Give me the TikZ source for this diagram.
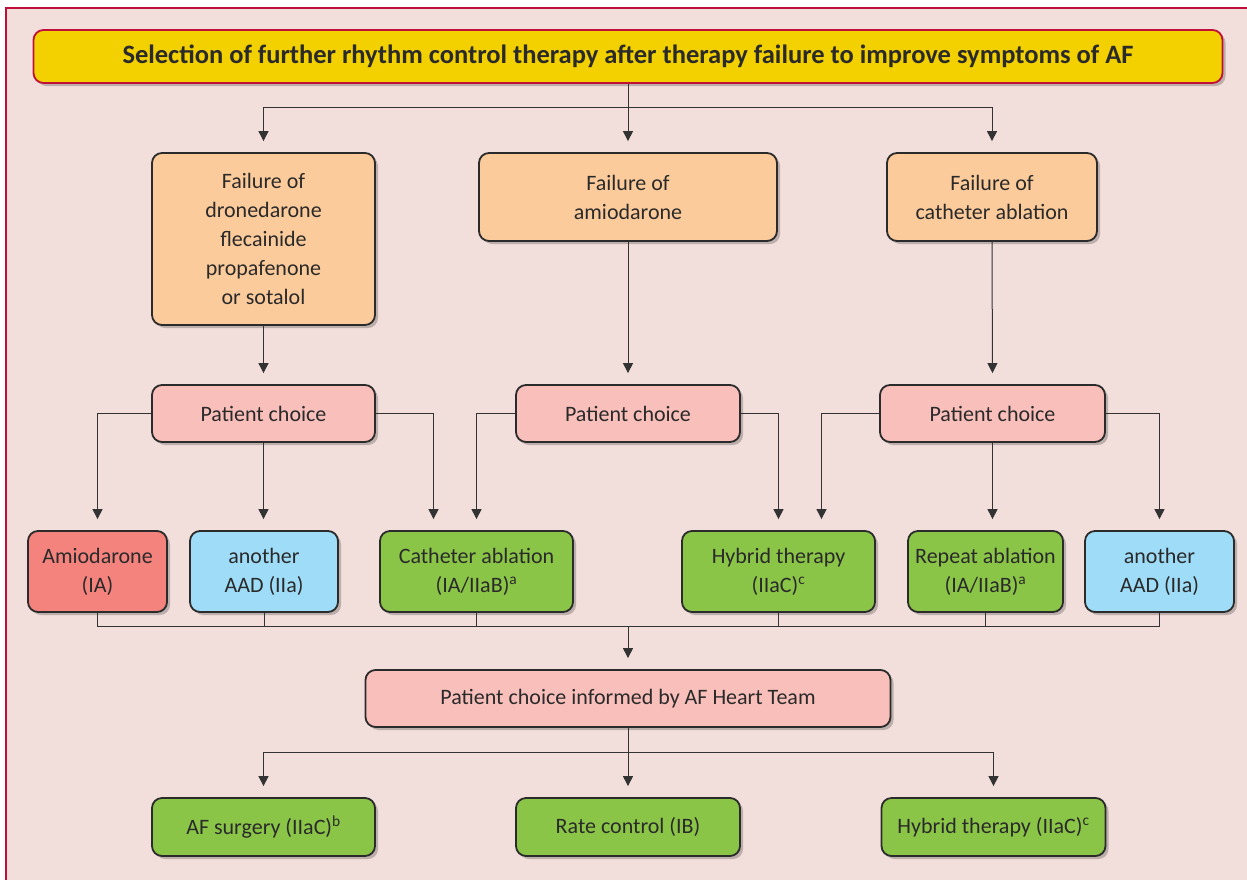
\documentclass[tikz,border=0pt]{standalone}
\usepackage{fontspec}
\setmainfont{Carlito}
\usetikzlibrary{shadows,arrows.meta,calc}
\definecolor{bgc}{HTML}{F2DFDC}
\definecolor{framec}{HTML}{C0103A}
\definecolor{yellowc}{HTML}{F3D000}
\definecolor{orangec}{HTML}{FCCB9B}
\definecolor{pinkc}{HTML}{F9BFBA}
\definecolor{redc}{HTML}{F4837E}
\definecolor{bluec}{HTML}{9EDCF8}
\definecolor{greenc}{HTML}{8BC548}
\definecolor{bordc}{HTML}{2B2B2B}
\definecolor{txtc}{HTML}{2A2A2A}
\definecolor{linec}{HTML}{333333}
\begin{document}
\begin{tikzpicture}[x=1pt,y=-1pt,
 box/.style={draw=bordc, line width=1.8pt, rounded corners=10pt, align=center,
   font=\fontsize{22}{29}\selectfont, text=txtc, inner sep=0pt,
   drop shadow={shadow xshift=3pt,shadow yshift=-3pt,opacity=0.22,fill=black}},
 conn/.style={draw=linec, line width=1pt},
 arr/.style={conn, -{Triangle[length=10pt,width=10pt]}, shorten >=11pt},
]
\useasboundingbox (0,0) rectangle (1247,879);
\fill[white] (0,0) rectangle (1247,879);
\draw[framec, line width=1.2pt, fill=bgc] (6,8) rectangle (1262,895);

\node[box, draw=framec, fill=yellowc, minimum width=1189pt, minimum height=53pt,
  font=\bfseries\fontsize{26.5}{30}\selectfont] (title) at (628,56.5)
  {Selection of further rhythm control therapy after therapy failure to improve symptoms of AF};

\node[box, fill=orangec, minimum width=223pt, minimum height=172pt] (f1) at (263.5,239)
  {Failure of\\dronedarone\\flecainide\\propafenone\\or sotalol};
\node[box, fill=orangec, minimum width=298pt, minimum height=88pt] (f2) at (628,197)
  {Failure of\\amiodarone};
\node[box, fill=orangec, minimum width=210pt, minimum height=88pt] (f3) at (992,197)
  {Failure of\\catheter ablation};

\node[box, fill=pinkc, minimum width=223pt, minimum height=57pt] (pc1) at (263.5,413.5) {Patient choice};
\node[box, fill=pinkc, minimum width=224pt, minimum height=57pt] (pc2) at (628,413.5) {Patient choice};
\node[box, fill=pinkc, minimum width=225pt, minimum height=57pt] (pc3) at (992.5,413.5) {Patient choice};

\node[box, fill=redc, minimum width=139pt, minimum height=81pt] (amio) at (97.5,571.5) {Amiodarone\\(IA)};
\node[box, fill=bluec, minimum width=148pt, minimum height=81pt] (aad1) at (264,571.5) {another\\AAD (IIa)};
\node[box, fill=greenc, minimum width=193pt, minimum height=81pt] (cath) at (476.5,571.5) {Catheter ablation\\(IA/IIaB)\textsuperscript{a}};
\node[box, fill=greenc, minimum width=193pt, minimum height=81pt] (hyb) at (778.5,571.5) {Hybrid therapy\\(IIaC)\textsuperscript{c}};
\node[box, fill=greenc, minimum width=155pt, minimum height=81pt] (rep) at (985.5,571.5) {Repeat ablation\\(IA/IIaB)\textsuperscript{a}};
\node[box, fill=bluec, minimum width=149pt, minimum height=81pt] (aad2) at (1159.5,571.5) {another\\AAD (IIa)};

\node[box, fill=pinkc, minimum width=525pt, minimum height=57pt] (inf) at (628,698.5) {Patient choice informed by AF Heart Team};

\node[box, fill=greenc, minimum width=223pt, minimum height=58pt] (surg) at (263.5,827) {AF surgery (IIaC)\textsuperscript{b}};
\node[box, fill=greenc, minimum width=224pt, minimum height=58pt] (rate) at (628,827) {Rate control (IB)};
\node[box, fill=greenc, minimum width=224pt, minimum height=58pt] (hyb2) at (993.5,827) {Hybrid therapy (IIaC)\textsuperscript{c}};

% title connectors
\coordinate (tj) at ($(title.south)+(0,24)$);
\draw[conn] (title.south) -- (tj);
\draw[arr] (tj) -| (f1.north);
\draw[arr] (tj) -| (f3.north);
\draw[arr] (tj) -- (f2.north);

\draw[arr] (f1.south) -- (pc1.north);
\draw[arr] (f2.south) -- (pc2.north);
\draw[arr] (f3.south) -- (pc3.north);

\draw[arr] (pc1.west) -| (amio.north);
\draw[arr] (pc1.south) -- (pc1.south |- aad1.north);
\draw[arr] (pc1.east) -| ($(cath.north)+(-43,0)$);
\draw[arr] (pc2.west) -| (cath.north);
\draw[arr] (pc2.east) -| (hyb.north);
\draw[arr] (pc3.west) -| ($(hyb.north)+(43,0)$);
\draw[arr] (pc3.south) -- (pc3.south |- rep.north);
\draw[arr] (pc3.east) -| (aad2.north);

\coordinate (bus) at ($(inf.north)+(0,-43)$);
\draw[conn] (amio.south) -- (amio.south |- bus) -- (aad2.south |- bus) -- (aad2.south);
\foreach \n in {aad1,cath,hyb,rep} \draw[conn] (\n.south) -- (\n.south |- bus);
\draw[arr] (bus) -- (inf.north);

\coordinate (bj) at ($(inf.south)+(0,25)$);
\draw[conn] (inf.south) -- (bj);
\draw[arr] (bj) -| (surg.north);
\draw[arr] (bj) -| (hyb2.north);
\draw[arr] (bj) -- (rate.north);
\end{tikzpicture}
\end{document}
